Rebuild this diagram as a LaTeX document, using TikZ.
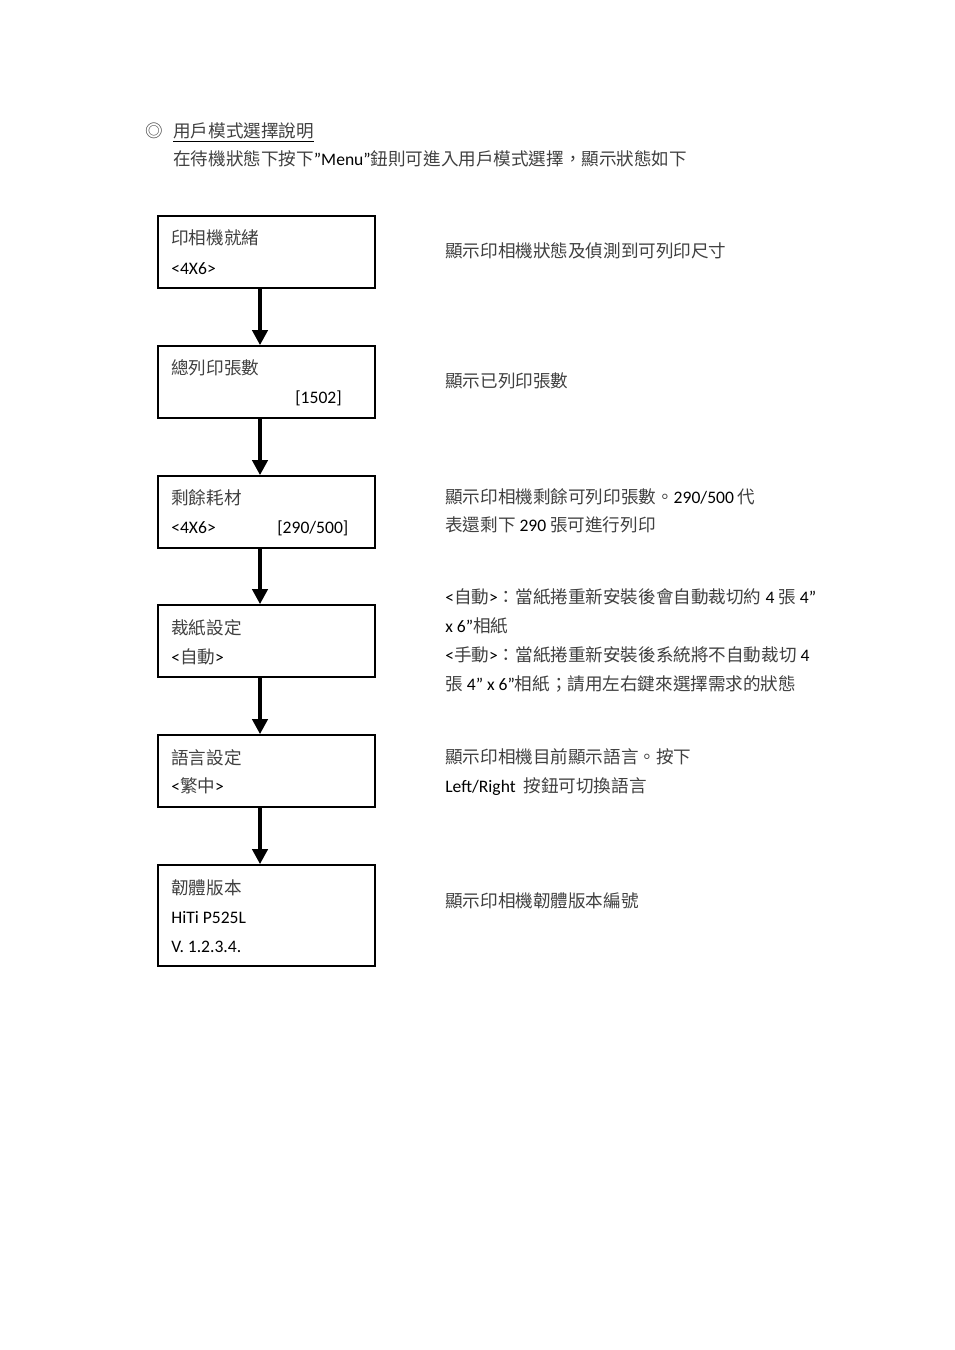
\documentclass[tikz,border=0pt]{standalone}
\usepackage{fontspec}
\setmainfont{Carlito}
\newfontfamily\zhfont{Noto Sans CJK TC}
\usetikzlibrary{arrows.meta}
\newcommand{\zh}[1]{{\zhfont\color{black!75}#1}}

\begin{document}
\begin{tikzpicture}[x=0.022cm, y=-0.022cm,
	box/.style={draw, line width=1pt, minimum width=4.774cm, minimum height=1.584cm, inner sep=0pt},
	txt/.style={anchor=base west, inner sep=0pt, yshift=-0.044cm, font=\fontsize{11pt}{13pt}\selectfont},
	flow/.style={-{Triangle[width=9.5pt, length=9.5pt]}, line width=3pt}]
	\useasboundingbox (0,0) rectangle (954,1350);
	\node[txt] (mark) at (145,136) {\zh{◎}};
	\node[txt] (title) at (173,136) {\underline{\zh{用戶模式選擇說明}}};
	\node[txt] (intro) at (173,164) {\zh{在待機狀態下按下}”Menu”\zh{鈕則可進入用戶模式選擇，顯示狀態如下}};
	\foreach \n/\y in {b1/252, b2/382, b3/512, b4/641, b5/771}
	{
		\node[box] (\n) at (266.5,\y) {};
	}
	\node[box, minimum height=2.222cm] (b6) at (266.5,915.5) {};
	\coordinate (ax) at (260,0);
	\foreach \a/\b in {b1/b2, b2/b3, b3/b4, b4/b5, b5/b6}
	{
		\draw[flow] (\a.south -| ax) -- (\b.north -| ax);
	}
	\node[txt] (b1a) at (171,243) {\zh{印相機就緒}};
	\node[txt] (b1b) at (171,272) {<4X6>};
	\node[txt] (b2a) at (171,372) {\zh{總列印張數}};
	\node[txt] (b2b) at (295,401) {[1502]};
	\node[txt] (b3a) at (171,502) {\zh{剩餘耗材}};
	\node[txt] (b3b) at (171,531) {<4X6>};
	\node[txt] (b3c) at (277,531) {[290/500]};
	\node[txt] (b4a) at (171,632) {\zh{裁紙設定}};
	\node[txt] (b4b) at (171,661) {<\zh{自動}>};
	\node[txt] (b5a) at (171,762) {\zh{語言設定}};
	\node[txt] (b5b) at (171,790) {<\zh{繁中}>};
	\node[txt] (b6a) at (171,892) {\zh{韌體版本}};
	\node[txt] (b6b) at (171,921) {HiTi P525L};
	\node[txt] (b6c) at (171,950) {V. 1.2.3.4.};
	\node[txt] (d1) at (445,256) {\zh{顯示印相機狀態及偵測到可列印尺寸}};
	\node[txt] (d2) at (445,385) {\zh{顯示已列印張數}};
	\node[txt] (d3a) at (445,501) {\zh{顯示印相機剩餘可列印張數。}290/500 \zh{代}};
	\node[txt] (d3b) at (445,529) {\zh{表還剩下} 290 \zh{張可進行列印}};
	\node[txt] (d4a) at (445,601) {<\zh{自動}>\zh{：當紙捲重新安裝後會自動裁切約} 4 \zh{張} 4”};
	\node[txt] (d4b) at (445,630) {x 6”\zh{相紙}};
	\node[txt] (d4c) at (445,659) {<\zh{手動}>\zh{：當紙捲重新安裝後系統將不自動裁切} 4};
	\node[txt] (d4d) at (445,688) {\zh{張} 4” x 6”\zh{相紙；請用左右鍵來選擇需求的狀態}};
	\node[txt] (d5a) at (445,761) {\zh{顯示印相機目前顯示語言。按下}};
	\node[txt] (d5b) at (445,790) {Left/Right\ \ \zh{按鈕可切換語言}};
	\node[txt] (d6) at (445,905) {\zh{顯示印相機韌體版本編號}};
\end{tikzpicture}
\end{document}
